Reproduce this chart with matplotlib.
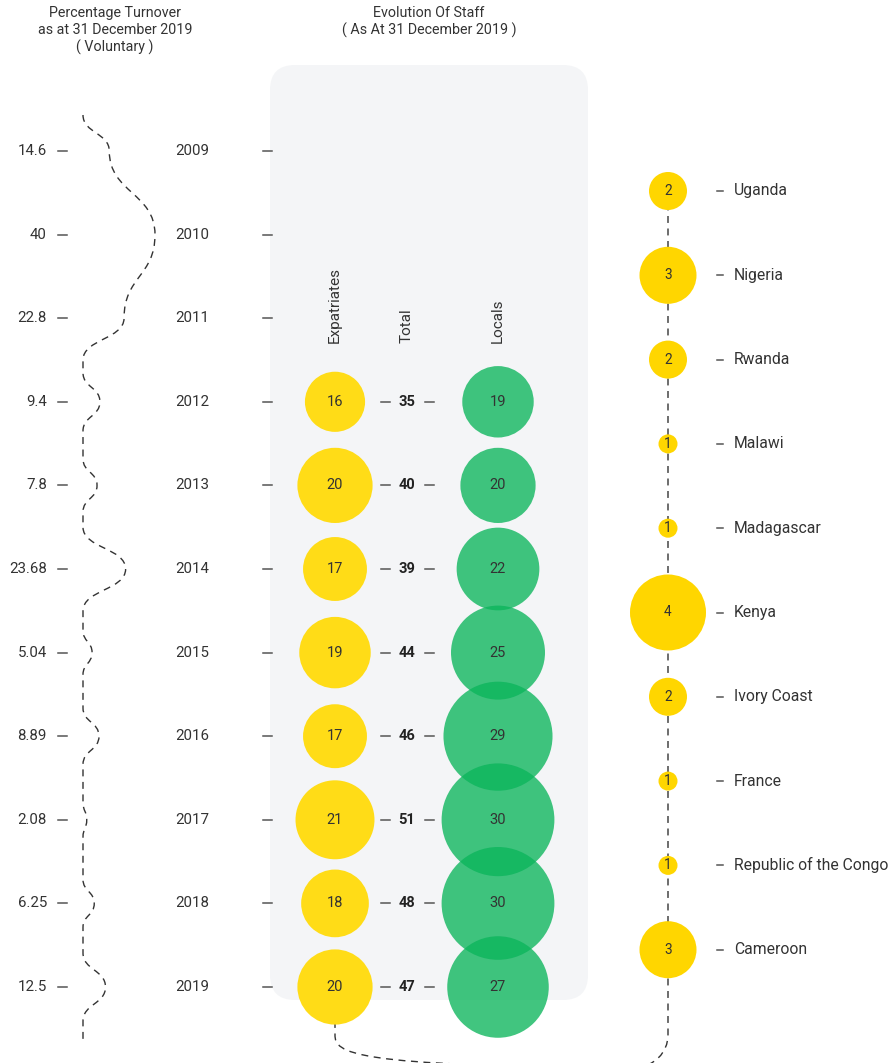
import matplotlib
matplotlib.use("Agg")
import matplotlib.pyplot as plt
import matplotlib.patches as patches
from matplotlib.path import Path

plt.rcParams['font.family'] = ['Roboto', 'DejaVu Sans']

# ---- data ----
years = [2009, 2010, 2011, 2012, 2013, 2014, 2015, 2016, 2017, 2018, 2019]
turnover = [14.6, 40, 22.8, 9.4, 7.8, 23.68, 5.04, 8.89, 2.08, 6.25, 12.5]
turnover_labels = ["14.6", "40", "22.8", "9.4", "7.8", "23.68", "5.04", "8.89", "2.08", "6.25", "12.5"]
staff_years = [2012, 2013, 2014, 2015, 2016, 2017, 2018, 2019]
expatriates = [16, 20, 17, 19, 17, 21, 18, 20]
totals = [35, 40, 39, 44, 46, 51, 48, 47]
locals_ = [19, 20, 22, 25, 29, 30, 30, 27]
countries = ["Uganda", "Nigeria", "Rwanda", "Malawi", "Madagascar", "Kenya",
             "Ivory Coast", "France", "Republic of the Congo", "Cameroon"]
country_counts = [2, 3, 2, 1, 1, 4, 2, 1, 1, 3]

# ---- layout (pixel units) ----
W, H = 891, 1063
year_y0, year_step = 151, 83.6
country_y0, country_step = 191, 84.3
x_wave, wave_k = 83, 1.8
x_exp, x_tot, x_loc, x_cty = 335, 407, 498, 668
r_staff, r_cty = 1.88, 9.5

TEXT = "#333333"
YELLOW = "#ffdc17"
CTY_YELLOW = "#ffd600"
GREEN = "#0bb55b"
DASHES = (0, (5, 4))

fig = plt.figure(figsize=(W / 100, H / 100), dpi=100)
ax = fig.add_axes([0, 0, 1, 1])
ax.set_xlim(0, W)
ax.set_ylim(H, 0)
ax.axis('off')


def year_y(yr):
    return year_y0 + (yr - years[0]) * year_step


def bump_half(v):
    return min(year_step / 2, 14 + 1.6 * v)


# titles
for i, line in enumerate(["Percentage Turnover", "as at 31 December 2019", "( Voluntary )"]):
    ax.text(115, 13 + 17 * i, line, ha='center', va='center', fontsize=10.3, color=TEXT)
for i, line in enumerate(["Evolution Of Staff", "( As At 31 December 2019 )"]):
    ax.text(429, 13 + 17 * i, line, ha='center', va='center', fontsize=10.3, color=TEXT)

# grey panel
panel = patches.FancyBboxPatch((270 + 25, 65 + 25), 318 - 50, 935 - 50,
                               boxstyle="round,pad=25", fc="#f4f5f7", ec="none", zorder=0)
ax.add_patch(panel)

# turnover labels and year labels
for yr, lab in zip(years, turnover_labels):
    y = year_y(yr)
    ax.text(47, y, lab, ha='right', va='center', fontsize=10.8, color=TEXT)
    ax.plot([58, 67], [y, y], color="#555555", lw=1.1)
    ax.text(175, y, str(yr), ha='left', va='center', fontsize=10.8, color=TEXT)
    ax.plot([263, 272], [y, y], color="#555555", lw=1.1)

# wavy turnover line: one bump per year, back to the baseline between small values
pts = [(x_wave, 115)]
for i, (yr, v) in enumerate(zip(years, turnover)):
    if i > 0 and min(v, turnover[i - 1]) < 12:
        pts.append((x_wave, year_y(years[i - 1]) + bump_half(turnover[i - 1])))
        pts.append((x_wave, year_y(yr) - bump_half(v)))
    pts.append((x_wave + wave_k * v, year_y(yr)))
pts.append((x_wave, year_y(years[-1]) + bump_half(turnover[-1])))
pts.append((x_wave, 1042))
verts = [pts[0]]
codes = [Path.MOVETO]
for (x1, y1), (x2, y2) in zip(pts[:-1], pts[1:]):
    d = (y2 - y1) / 2
    verts += [(x1, y1 + d), (x2, y2 - d), (x2, y2)]
    codes += [Path.CURVE4] * 3
ax.add_patch(patches.PathPatch(Path(verts, codes), fill=False, ec="#333333",
                               lw=1, linestyle=DASHES, zorder=1))

# column headers
for x, lab in [(x_exp, "Expatriates"), (x_tot, "Total"), (x_loc, "Locals")]:
    ax.text(x, 343, lab, rotation=90, ha='center', va='bottom', fontsize=11, color=TEXT)

# staff bubbles
for yr, e, t, l in zip(staff_years, expatriates, totals, locals_):
    y = year_y(yr)
    ax.add_patch(patches.Circle((x_exp, y), r_staff * e, fc=YELLOW, ec='none', zorder=2))
    ax.text(x_exp, y, str(e), ha='center', va='center', fontsize=10.5, color=TEXT, zorder=5)
    ax.add_patch(patches.Circle((x_loc, y), r_staff * l, fc=GREEN, ec='none', alpha=0.78, zorder=2))
    ax.text(x_loc, y, str(l), ha='center', va='center', fontsize=10.5, color=TEXT, zorder=5)
    ax.text(x_tot, y, str(t), ha='center', va='center', fontsize=10.5, fontweight='bold',
            color="#222222", zorder=5)
    ax.plot([381, 390], [y, y], color="#555555", lw=1.1, zorder=4)
    ax.plot([425, 434], [y, y], color="#555555", lw=1.1, zorder=4)

# country line, joining the last expatriate bubble below the panel
y_last = year_y(staff_years[-1])
cr = 32
k = 0.5523 * cr
bottom = 1035
loop = Path([(x_cty, country_y0), (x_cty, bottom),
             (x_cty, bottom + k), (x_cty - cr + k, bottom + cr), (x_cty - cr, bottom + cr),
             (x_exp + cr, bottom + cr),
             (x_exp + cr - k, bottom + cr), (x_exp, bottom + k), (x_exp, bottom),
             (x_exp, y_last)],
            [Path.MOVETO, Path.LINETO, Path.CURVE4, Path.CURVE4, Path.CURVE4,
             Path.LINETO, Path.CURVE4, Path.CURVE4, Path.CURVE4, Path.LINETO])
ax.add_patch(patches.PathPatch(loop, fill=False, ec="#333333", lw=1, linestyle=DASHES, zorder=1))

# country bubbles
for i, (name, n) in enumerate(zip(countries, country_counts)):
    y = country_y0 + i * country_step
    ax.add_patch(patches.Circle((x_cty, y), r_cty * n, fc=CTY_YELLOW, ec='none', zorder=2))
    ax.text(x_cty, y, str(n), ha='center', va='center', fontsize=9.8, color=TEXT, zorder=5)
    ax.plot([717, 723], [y, y], color="#555555", lw=1.1)
    ax.text(734, y, name, ha='left', va='center', fontsize=11.3, color=TEXT)

fig.savefig("out.png", dpi=100)
